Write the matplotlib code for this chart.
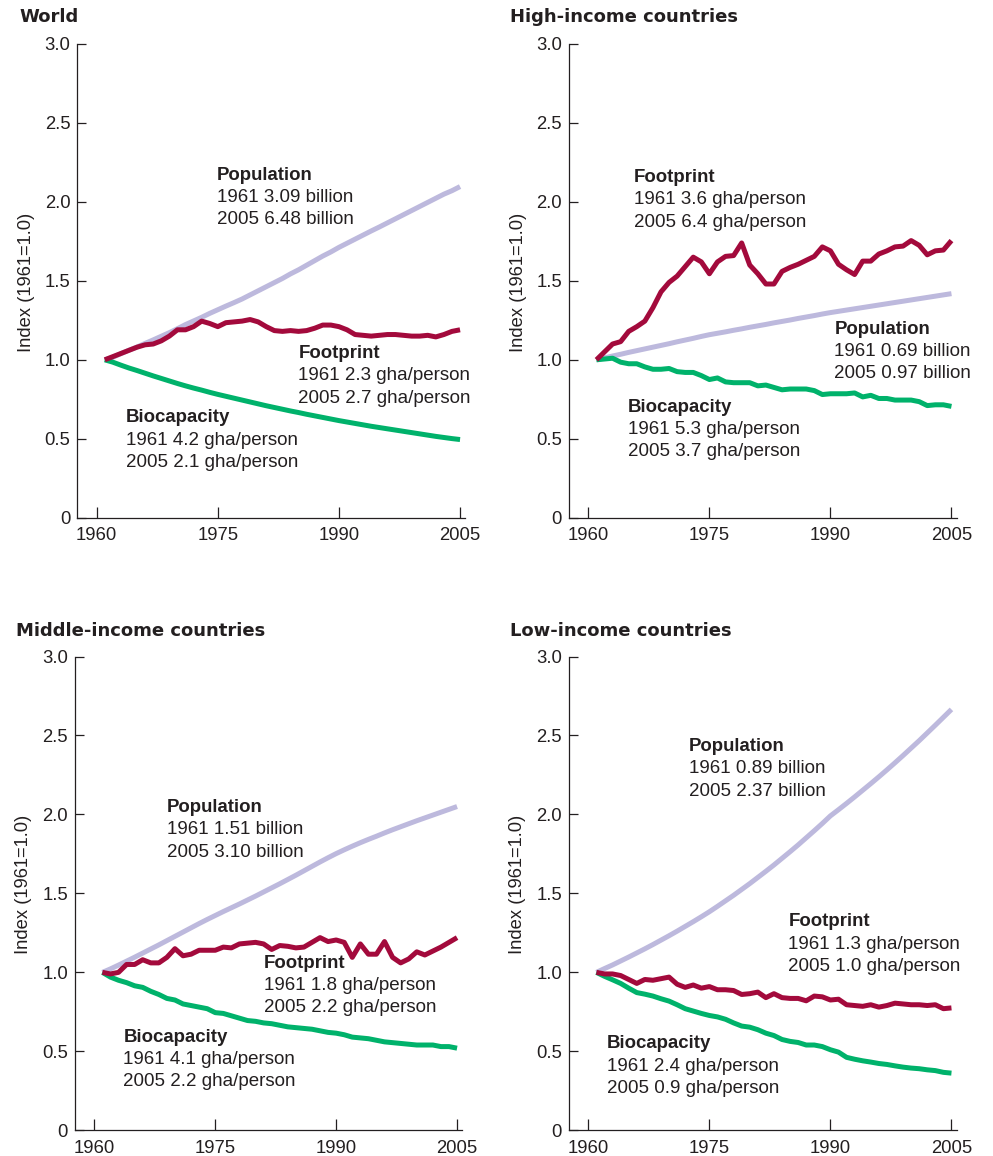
import matplotlib
matplotlib.use("Agg")
import matplotlib.pyplot as plt

# ---------------- data ----------------
years = list(range(1961, 2006))

world_population = [1.000, 1.016, 1.039, 1.061, 1.081, 1.104, 1.126, 1.149, 1.172, 1.197,
                    1.223, 1.246, 1.269, 1.294, 1.317, 1.340, 1.362, 1.385, 1.411, 1.437,
                    1.463, 1.489, 1.515, 1.544, 1.570, 1.599, 1.628, 1.657, 1.683, 1.712,
                    1.738, 1.764, 1.790, 1.816, 1.841, 1.867, 1.893, 1.919, 1.945, 1.971,
                    1.997, 2.023, 2.049, 2.071, 2.097]
world_footprint = [1.00, 1.02, 1.04, 1.06, 1.08, 1.095, 1.10, 1.12, 1.15, 1.19,
                   1.19, 1.21, 1.245, 1.23, 1.21, 1.235, 1.24, 1.245, 1.255, 1.24,
                   1.21, 1.185, 1.18, 1.185, 1.18, 1.185, 1.20, 1.22, 1.22, 1.21,
                   1.19, 1.16, 1.155, 1.15, 1.155, 1.16, 1.16, 1.155, 1.15, 1.15,
                   1.155, 1.145, 1.16, 1.18, 1.19]
world_biocapacity = [1.000, 0.985, 0.966, 0.948, 0.932, 0.915, 0.898, 0.882, 0.866, 0.850,
                     0.835, 0.821, 0.808, 0.794, 0.781, 0.769, 0.757, 0.745, 0.733, 0.721,
                     0.709, 0.698, 0.687, 0.676, 0.666, 0.655, 0.645, 0.635, 0.625, 0.615,
                     0.606, 0.597, 0.588, 0.579, 0.571, 0.563, 0.555, 0.547, 0.539, 0.531,
                     0.523, 0.515, 0.508, 0.501, 0.495]

high_population = [1.000, 1.012, 1.024, 1.035, 1.047, 1.058, 1.069, 1.080, 1.091, 1.102,
                   1.114, 1.125, 1.136, 1.148, 1.159, 1.168, 1.177, 1.187, 1.196, 1.206,
                   1.215, 1.224, 1.234, 1.243, 1.252, 1.262, 1.271, 1.280, 1.290, 1.299,
                   1.307, 1.315, 1.323, 1.331, 1.339, 1.347, 1.355, 1.363, 1.371, 1.379,
                   1.387, 1.395, 1.403, 1.411, 1.419]
high_footprint = [1.00, 1.05, 1.10, 1.115, 1.18, 1.21, 1.245, 1.33, 1.43, 1.49,
                  1.53, 1.59, 1.65, 1.62, 1.545, 1.62, 1.655, 1.66, 1.74, 1.60,
                  1.545, 1.48, 1.48, 1.56, 1.585, 1.605, 1.63, 1.655, 1.715, 1.69,
                  1.605, 1.57, 1.54, 1.625, 1.625, 1.67, 1.69, 1.715, 1.72, 1.755,
                  1.725, 1.665, 1.69, 1.695, 1.755]
high_biocapacity = [1.00, 1.005, 1.01, 0.985, 0.975, 0.975, 0.955, 0.94, 0.94, 0.945,
                    0.925, 0.92, 0.92, 0.90, 0.875, 0.885, 0.86, 0.855, 0.855, 0.855,
                    0.835, 0.84, 0.825, 0.81, 0.815, 0.815, 0.815, 0.805, 0.78, 0.785,
                    0.785, 0.785, 0.79, 0.765, 0.775, 0.755, 0.755, 0.745, 0.745, 0.745,
                    0.735, 0.71, 0.715, 0.715, 0.705]

middle_population = [1.000, 1.022, 1.046, 1.071, 1.096, 1.122, 1.148, 1.174, 1.201, 1.228,
                     1.255, 1.282, 1.309, 1.335, 1.360, 1.385, 1.409, 1.433, 1.458, 1.483,
                     1.509, 1.535, 1.561, 1.588, 1.615, 1.643, 1.671, 1.699, 1.726, 1.752,
                     1.776, 1.799, 1.821, 1.842, 1.862, 1.883, 1.903, 1.922, 1.941, 1.960,
                     1.978, 1.996, 2.014, 2.032, 2.050]
middle_footprint = [1.00, 0.99, 1.00, 1.05, 1.05, 1.08, 1.06, 1.06, 1.095, 1.15,
                    1.105, 1.115, 1.14, 1.14, 1.14, 1.16, 1.155, 1.18, 1.185, 1.19,
                    1.18, 1.145, 1.17, 1.165, 1.155, 1.16, 1.19, 1.22, 1.195, 1.205,
                    1.19, 1.095, 1.18, 1.115, 1.115, 1.195, 1.095, 1.06, 1.085, 1.13,
                    1.11, 1.135, 1.16, 1.19, 1.22]
middle_biocapacity = [1.00, 0.97, 0.95, 0.935, 0.915, 0.905, 0.88, 0.86, 0.835, 0.825,
                      0.80, 0.79, 0.78, 0.77, 0.745, 0.74, 0.725, 0.71, 0.695, 0.69,
                      0.68, 0.675, 0.665, 0.655, 0.65, 0.645, 0.64, 0.63, 0.62, 0.615,
                      0.605, 0.59, 0.585, 0.58, 0.57, 0.56, 0.555, 0.55, 0.545, 0.54,
                      0.54, 0.54, 0.53, 0.53, 0.52]

low_population = [1.000, 1.024, 1.047, 1.072, 1.097, 1.123, 1.149, 1.176, 1.204, 1.232,
                  1.261, 1.291, 1.321, 1.352, 1.384, 1.418, 1.453, 1.488, 1.525, 1.562,
                  1.601, 1.640, 1.680, 1.722, 1.764, 1.807, 1.852, 1.897, 1.943, 1.991,
                  2.030, 2.070, 2.111, 2.153, 2.195, 2.238, 2.282, 2.327, 2.373, 2.420,
                  2.467, 2.516, 2.565, 2.615, 2.665]
low_footprint = [1.00, 0.99, 0.99, 0.98, 0.955, 0.93, 0.955, 0.95, 0.96, 0.97,
                 0.925, 0.905, 0.92, 0.90, 0.91, 0.89, 0.89, 0.885, 0.86, 0.865,
                 0.875, 0.84, 0.865, 0.84, 0.835, 0.835, 0.82, 0.85, 0.845, 0.825,
                 0.83, 0.795, 0.79, 0.785, 0.795, 0.78, 0.79, 0.805, 0.80, 0.795,
                 0.795, 0.79, 0.795, 0.77, 0.775]
low_biocapacity = [1.00, 0.975, 0.953, 0.93, 0.90, 0.872, 0.862, 0.85, 0.833, 0.818,
                   0.795, 0.77, 0.755, 0.74, 0.727, 0.718, 0.703, 0.68, 0.66, 0.653,
                   0.637, 0.615, 0.60, 0.575, 0.563, 0.556, 0.54, 0.54, 0.53, 0.51,
                   0.495, 0.462, 0.45, 0.44, 0.432, 0.423, 0.417, 0.408, 0.40, 0.394,
                   0.39, 0.383, 0.378, 0.367, 0.362]

panel_titles = ["World", "High-income countries", "Middle-income countries", "Low-income countries"]
series_names = ["Population", "Footprint", "Biocapacity"]
panel_notes = [
    {"Population": ("1961 3.09 billion", "2005 6.48 billion"),
     "Footprint": ("1961 2.3 gha/person", "2005 2.7 gha/person"),
     "Biocapacity": ("1961 4.2 gha/person", "2005 2.1 gha/person")},
    {"Population": ("1961 0.69 billion", "2005 0.97 billion"),
     "Footprint": ("1961 3.6 gha/person", "2005 6.4 gha/person"),
     "Biocapacity": ("1961 5.3 gha/person", "2005 3.7 gha/person")},
    {"Population": ("1961 1.51 billion", "2005 3.10 billion"),
     "Footprint": ("1961 1.8 gha/person", "2005 2.2 gha/person"),
     "Biocapacity": ("1961 4.1 gha/person", "2005 2.2 gha/person")},
    {"Population": ("1961 0.89 billion", "2005 2.37 billion"),
     "Footprint": ("1961 1.3 gha/person", "2005 1.0 gha/person"),
     "Biocapacity": ("1961 2.4 gha/person", "2005 0.9 gha/person")},
]
x_ticks = [1960, 1975, 1990, 2005]
y_ticks = [0, 0.5, 1.0, 1.5, 2.0, 2.5, 3.0]
y_tick_labels = ["0", "0.5", "1.0", "1.5", "2.0", "2.5", "3.0"]
y_label = "Index (1961=1.0)"

# ---------------- style / layout ----------------
TEXT = "#231f20"
COLORS = {"Population": "#bdb9dd", "Footprint": "#a30a3c", "Biocapacity": "#00b26b"}
FONT = "Liberation Sans"

W, H = 993, 1156
fig = plt.figure(figsize=(W / 100, H / 100), dpi=100)

# axes rectangles in pixels: (left, top, right, bottom)
rects_px = [(77.3, 44.0, 465.3, 517.7),
            (569.0, 44.0, 956.7, 517.7),
            (75.0, 656.5, 462.3, 1130.3),
            (569.0, 656.5, 956.7, 1130.3)]
title_px = [(19, 17), (510, 17), (16, 631.5), (510, 631)]
ylabel_px = [(26.7, 282), (518.3, 282), (24, 884), (517.7, 884)]
# annotation anchor (data coords): left edge, centre of the bold line
note_pos = [
    {"Population": (1974.87, 2.170), "Footprint": (1984.98, 1.039), "Biocapacity": (1963.63, 0.632)},
    {"Population": (1990.48, 1.193), "Footprint": (1965.66, 2.155), "Biocapacity": (1964.88, 0.700)},
    {"Population": (1969.04, 2.043), "Footprint": (1981.00, 1.059), "Biocapacity": (1963.59, 0.589)},
    {"Population": (1972.48, 2.430), "Footprint": (1984.78, 1.319), "Biocapacity": (1962.28, 0.547)},
]

data = [
    {"Population": world_population, "Footprint": world_footprint, "Biocapacity": world_biocapacity},
    {"Population": high_population, "Footprint": high_footprint, "Biocapacity": high_biocapacity},
    {"Population": middle_population, "Footprint": middle_footprint, "Biocapacity": middle_biocapacity},
    {"Population": low_population, "Footprint": low_footprint, "Biocapacity": low_biocapacity},
]

LINE_STEP_PT = 22.3 * 72 / 100

for i in range(4):
    l, t, r, b = rects_px[i]
    ax = fig.add_axes([l / W, 1 - b / H, (r - l) / W, (b - t) / H])
    ax.set_xlim(1957.6, 2005.65)
    ax.set_ylim(0, 3.0)
    for s in ["top", "right"]:
        ax.spines[s].set_visible(False)
    for s in ["left", "bottom"]:
        ax.spines[s].set_linewidth(0.9)
        ax.spines[s].set_color(TEXT)
    ax.set_xticks(x_ticks)
    ax.set_xticklabels([str(v) for v in x_ticks])
    ax.set_yticks(y_ticks)
    ax.set_yticklabels(y_tick_labels)
    ax.tick_params(axis="x", direction="in", length=8, width=0.9, color=TEXT, pad=7,
                   labelsize=13.3, labelcolor=TEXT)
    ax.tick_params(axis="y", direction="in", length=6.5, width=0.9, color=TEXT, pad=5,
                   labelsize=13.3, labelcolor=TEXT)
    for lab in ax.get_xticklabels() + ax.get_yticklabels():
        lab.set_fontfamily(FONT)

    for name in series_names:
        ax.plot(years, data[i][name], color=COLORS[name], lw=3.6,
                solid_capstyle="butt", solid_joinstyle="round",
                zorder={"Population": 2, "Biocapacity": 3, "Footprint": 4}[name])

    for name in series_names:
        x0, y0 = note_pos[i][name]
        ax.annotate(name, (x0, y0), xytext=(0, 0), textcoords="offset points",
                    ha="left", va="center", fontsize=13.4, fontweight="bold",
                    family=FONT, color=TEXT)
        for k, line in enumerate(panel_notes[i][name], start=1):
            ax.annotate(line, (x0, y0), xytext=(0, -LINE_STEP_PT * k), textcoords="offset points",
                        ha="left", va="center", fontsize=13.5, family=FONT, color=TEXT)

    tx, ty = title_px[i]
    fig.text(tx / W, 1 - ty / H, panel_titles[i], ha="left", va="center",
             fontsize=13, fontweight="bold", family="DejaVu Sans", color=TEXT)
    yx, yy = ylabel_px[i]
    fig.text(yx / W, 1 - yy / H, y_label, ha="center", va="center", rotation=90,
             fontsize=13.2, family=FONT, color=TEXT)

fig.savefig("out.png", dpi=100, facecolor="white")
